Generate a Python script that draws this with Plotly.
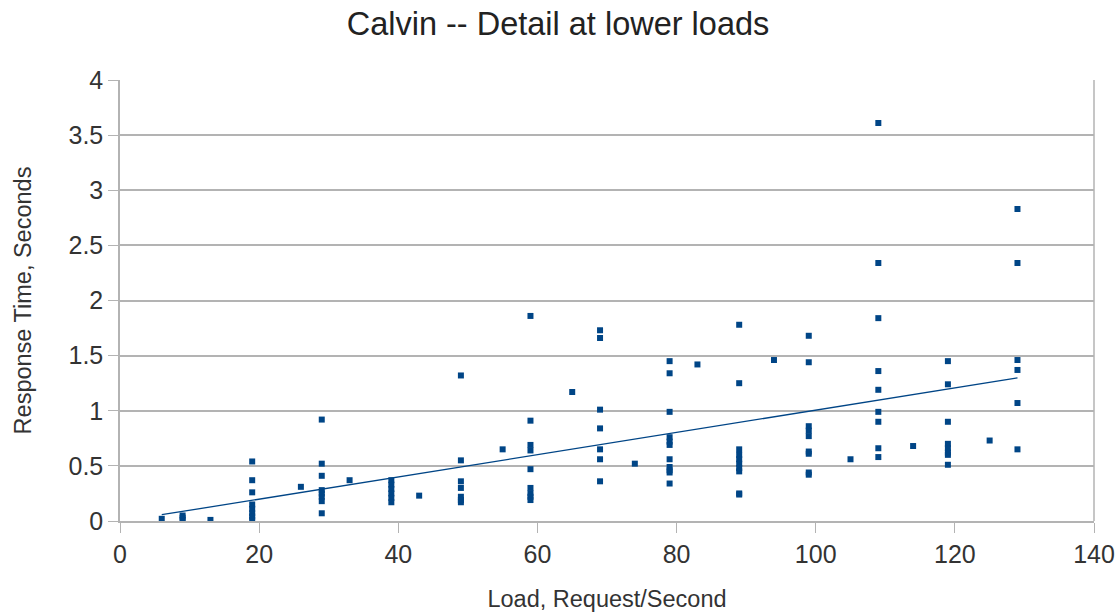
import numpy as np
import plotly.graph_objects as go

# load level (requests/second) and measured response time (seconds), one entry per sample
loads = (
    [6] + [9] * 3 + [13]
    + [19] * 8 + [26] + [29] * 8 + [33] + [39] * 6 + [43]
    + [49] * 7 + [55] + [59] * 9 + [65] + [69] * 7 + [74]
    + [79] * 11 + [83] + [89] * 10 + [94] + [99] * 9 + [105]
    + [109] * 9 + [114] + [119] * 8 + [125] + [129] * 6
)
times = [
    0.02,
    0.01, 0.03, 0.05,
    0.01,
    0.54, 0.37, 0.26, 0.15, 0.11, 0.07, 0.04, 0.01,
    0.31,
    0.92, 0.52, 0.41, 0.28, 0.25, 0.22, 0.18, 0.07,
    0.37,
    0.37, 0.33, 0.29, 0.25, 0.21, 0.17,
    0.23,
    1.32, 0.55, 0.36, 0.30, 0.22, 0.19, 0.17,
    0.65,
    1.86, 0.91, 0.69, 0.64, 0.47, 0.30, 0.25, 0.22, 0.19,
    1.17,
    1.73, 1.66, 1.01, 0.84, 0.65, 0.56, 0.36,
    0.52,
    1.45, 1.34, 0.99, 0.76, 0.72, 0.69, 0.56, 0.49, 0.46, 0.44, 0.34,
    1.42,
    1.78, 1.25, 0.65, 0.60, 0.56, 0.52, 0.48, 0.45, 0.25, 0.24,
    1.46,
    1.68, 1.44, 0.86, 0.82, 0.77, 0.63, 0.61, 0.44, 0.42,
    0.56,
    3.61, 2.34, 1.84, 1.36, 1.19, 0.99, 0.90, 0.66, 0.58,
    0.68,
    1.45, 1.24, 0.90, 0.70, 0.66, 0.62, 0.60, 0.51,
    0.73,
    2.83, 2.34, 1.46, 1.37, 1.07, 0.65,
]

blue = '#004586'
grey = '#b3b3b3'
font = 'Liberation Sans, Arial, sans-serif'

# linear trend line over the data range
slope, intercept = np.polyfit(loads, times, 1)
trend_x = [min(loads), max(loads)]
trend_y = [slope * v + intercept for v in trend_x]

fig = go.Figure()
fig.add_trace(go.Scatter(
    x=loads, y=times, mode='markers',
    marker=dict(symbol='square', size=6, color=blue),
    hoverinfo='none',
))
fig.add_trace(go.Scatter(
    x=trend_x, y=trend_y, mode='lines',
    line=dict(color=blue, width=1.3),
    hoverinfo='none',
))

fig.update_layout(
    width=1116, height=613,
    showlegend=False,
    plot_bgcolor='white', paper_bgcolor='white',
    margin=dict(l=120, r=22, t=80, b=92),
    font=dict(family=font, color='#333333'),
    title=dict(text='Calvin -- Detail at lower loads', x=0.5, xanchor='center',
               y=0.962, yanchor='middle', font=dict(size=32.5, color='#222222')),
)
fig.update_xaxes(
    range=[0, 140], tickvals=list(range(0, 141, 20)),
    showgrid=False, zeroline=False, automargin=False,
    showline=True, linecolor=grey, linewidth=1.5,
    ticks='outside', ticklen=10, tickcolor=grey,
    tickfont=dict(size=25),
    title=dict(text='Load, Request/Second', font=dict(size=23.5), standoff=24),
)
fig.update_yaxes(
    range=[0, 4], tickvals=[0, 0.5, 1, 1.5, 2, 2.5, 3, 3.5, 4],
    ticktext=['0', '0.5', '1', '1.5', '2', '2.5', '3', '3.5', '4'],
    showgrid=True, gridcolor=grey, gridwidth=1.5, zeroline=False, automargin=False,
    showline=True, linecolor=grey, linewidth=1.5,
    ticks='outside', ticklen=10, tickcolor=grey,
    tickfont=dict(size=25),
    title=dict(text='Response Time, Seconds', font=dict(size=23.5), standoff=30),
)
# right border of plot area
fig.add_shape(type='line', xref='paper', yref='paper', x0=1, x1=1, y0=0, y1=1,
              line=dict(color=grey, width=1.5))

# drop the page's default body margin so the figure sits at the window corner
fig.write_html('out.html', config={'displayModeBar': False},
               post_script="document.body.style.margin='0';")
